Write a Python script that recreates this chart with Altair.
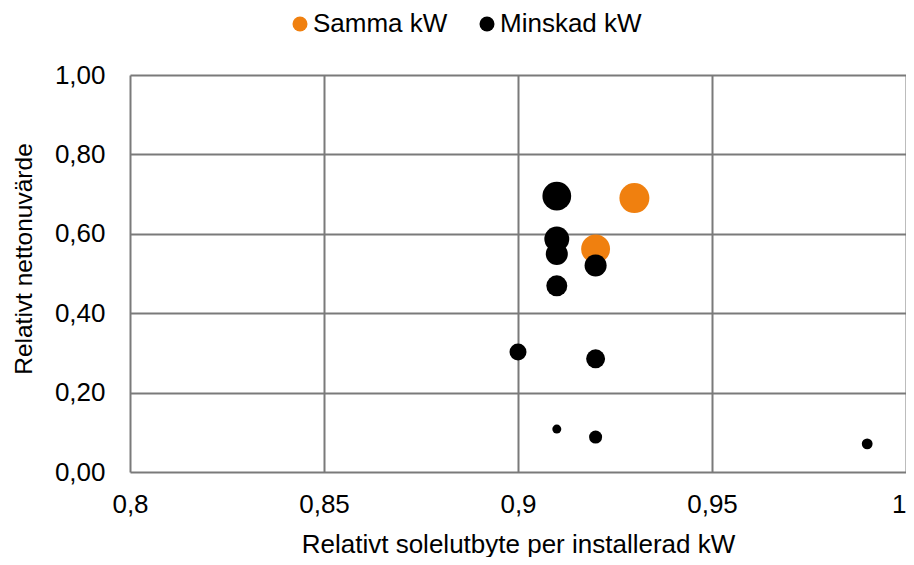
import altair as alt
import pandas as pd

# Data
series = ["Samma kW", "Samma kW",
          "Minskad kW", "Minskad kW", "Minskad kW", "Minskad kW", "Minskad kW",
          "Minskad kW", "Minskad kW", "Minskad kW", "Minskad kW", "Minskad kW"]
x_vals = [0.93, 0.92,
          0.91, 0.91, 0.91, 0.92, 0.91, 0.90, 0.92, 0.91, 0.92, 0.99]
y_vals = [0.690, 0.562,
          0.695, 0.587, 0.549, 0.520, 0.469, 0.302, 0.285, 0.108, 0.088, 0.071]
bubble = [1.00, 0.93,
          0.92, 0.69, 0.54, 0.54, 0.49, 0.32, 0.40, 0.09, 0.19, 0.13]
x_ticks = [0.8, 0.85, 0.9, 0.95, 1.0]
y_ticks = [0, 0.2, 0.4, 0.6, 0.8, 1.0]

df = pd.DataFrame({"serie": series, "x": x_vals, "y": y_vals, "b": bubble})

FONT = "Liberation Sans"
GRID = "#7a7a7a"
FS = 26

chart = alt.Chart(df).mark_circle(opacity=1).encode(
    x=alt.X("x:Q",
            scale=alt.Scale(domain=[0.8, 1.0], nice=False, zero=False),
            axis=alt.Axis(values=x_ticks,
                          labelExpr="replace(format(datum.value, '~g'), '.', ',')",
                          labelAlign=alt.ExprRef("datum.value >= 1 ? 'right' : 'center'"),
                          title="Relativt solelutbyte per installerad kW",
                          titleBaseline="alphabetic", titleY=80,
                          labelPadding=19, ticks=False,
                          domain=False, grid=True)),
    y=alt.Y("y:Q",
            scale=alt.Scale(domain=[0, 1.0], nice=False),
            axis=alt.Axis(values=y_ticks,
                          labelExpr="replace(format(datum.value, '.2f'), '.', ',')",
                          title="Relativt nettonuvärde",
                          titleFontSize=24.5,
                          titleBaseline="alphabetic", titleAngle=270,
                          titleX=-99, titleY=183.5,
                          labelPadding=25, ticks=False,
                          domain=False, grid=True)),
    color=alt.Color("serie:N",
                    scale=alt.Scale(domain=["Samma kW", "Minskad kW"],
                                    range=["#F0800F", "#000000"]),
                    legend=alt.Legend(title=None, orient="none", direction="horizontal",
                                      legendX=157, legendY=-64,
                                      symbolType="circle", symbolSize=225,
                                      labelFontSize=FS, labelFont=FONT,
                                      labelColor="#000000", labelOffset=0,
                                      columnPadding=26, padding=0)),
    size=alt.Size("b:Q",
                  scale=alt.Scale(domain=[0, 1], range=[0, 900], zero=True),
                  legend=None),
).properties(
    width=776,
    height=397,
    autosize=alt.AutoSizeParams(type="none"),
    padding={"left": 122, "top": 67, "right": 0, "bottom": 85},
).configure_axis(
    gridColor=GRID,
    gridWidth=2,
    gridOpacity=1,
    labelFont=FONT,
    labelFontSize=FS,
    labelColor="#000000",
    titleFont=FONT,
    titleFontSize=FS,
    titleFontWeight="normal",
    titleColor="#000000",
).configure_view(
    stroke=None,
).configure_legend(
    symbolStrokeWidth=0,
)

chart.save("out.html", embed_options={"renderer": "svg", "actions": False})
